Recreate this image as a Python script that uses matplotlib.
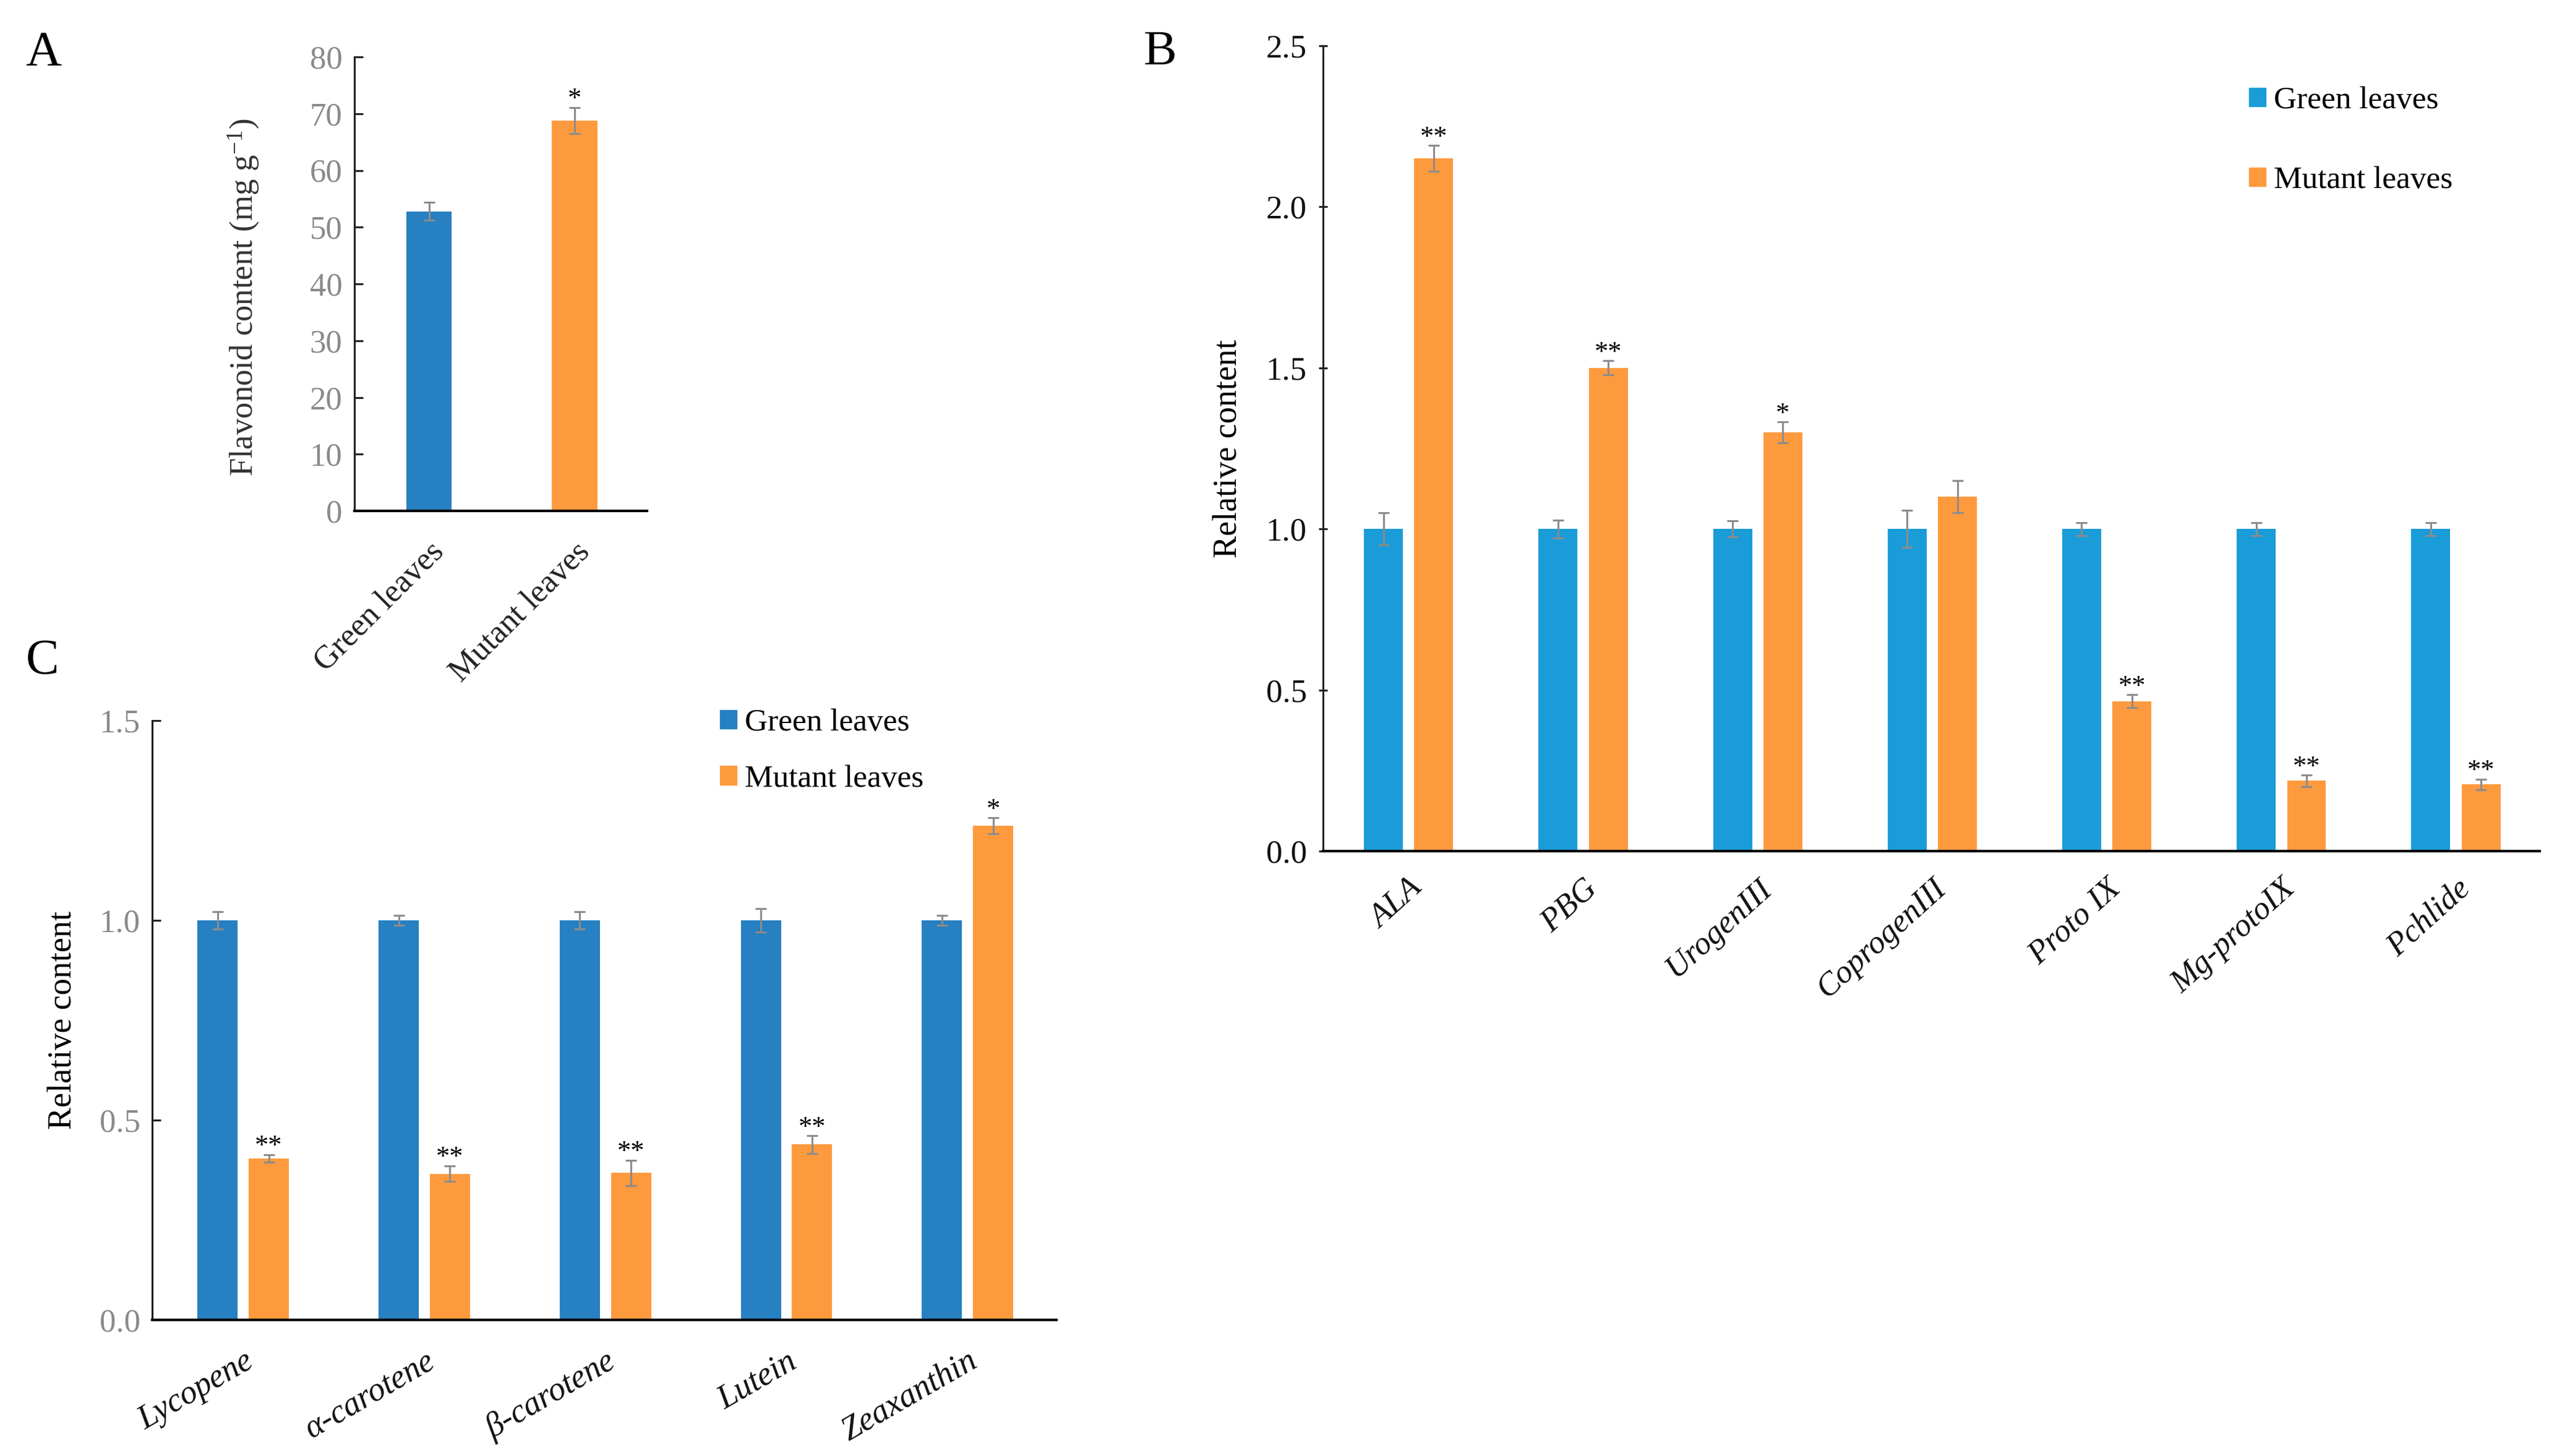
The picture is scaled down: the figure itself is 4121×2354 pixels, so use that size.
import matplotlib
matplotlib.use('Agg')
import matplotlib.pyplot as plt
import numpy as np
from matplotlib.patches import Patch

plt.rcParams['font.family'] = ['Liberation Serif', 'DejaVu Serif']
plt.rcParams['mathtext.fontset'] = 'custom'
plt.rcParams['mathtext.rm'] = 'Liberation Serif'
plt.rcParams['mathtext.it'] = 'Liberation Serif:italic'
plt.rcParams['mathtext.default'] = 'regular'

# ---------------- data ----------------
# Panel A
a_labels = ['Green leaves', 'Mutant leaves']
a_values = [52.8, 68.8]
a_errors = [1.6, 2.3]
a_sig = ['', '*']
a_yticks = [0, 10, 20, 30, 40, 50, 60, 70, 80]

# Panel B
b_categories = ['ALA', 'PBG', 'UrogenIII', 'CoprogenIII', 'Proto IX', 'Mg-protoIX', 'Pchlide']
b_green = [1.0, 1.0, 1.0, 1.0, 1.0, 1.0, 1.0]
b_green_err = [0.05, 0.028, 0.025, 0.058, 0.02, 0.02, 0.02]
b_mutant = [2.15, 1.50, 1.30, 1.10, 0.465, 0.218, 0.207]
b_mutant_err = [0.04, 0.022, 0.032, 0.05, 0.02, 0.018, 0.016]
b_sig = ['**', '**', '*', '', '**', '**', '**']
b_yticks = [0.0, 0.5, 1.0, 1.5, 2.0, 2.5]

# Panel C
c_categories = ['Lycopene', 'α-carotene', 'β-carotene', 'Lutein', 'Zeaxanthin']
c_green = [1.0, 1.0, 1.0, 1.0, 1.0]
c_green_err = [0.021, 0.013, 0.021, 0.03, 0.013]
c_mutant = [0.404, 0.366, 0.368, 0.439, 1.237]
c_mutant_err = [0.01, 0.02, 0.032, 0.022, 0.02]
c_sig = ['**', '**', '**', '**', '*']
c_yticks = [0.0, 0.5, 1.0, 1.5]

series_names = ['Green leaves', 'Mutant leaves']

# ---------------- style ----------------
BLUE_AC = '#2680C1'
BLUE_B = '#1A9CD8'
ORANGE = '#FE9A3E'
ERR = '#8C8C8C'
GREY_TXT = '#8A8A8A'

W, H = 4121, 2354
fig = plt.figure(figsize=(W / 100, H / 100), dpi=100)


def px_axes(left, top, right, bottom):
    return fig.add_axes([left / W, 1 - bottom / H, (right - left) / W, (bottom - top) / H])


def base_style(ax, tick_color, tick_dir):
    for s in ['top', 'right']:
        ax.spines[s].set_visible(False)
    ax.spines['left'].set_linewidth(2.2)
    ax.spines['bottom'].set_linewidth(3.0)
    ax.spines['left'].set_color('#222222')
    ax.spines['bottom'].set_color('black')
    ax.tick_params(axis='y', direction=tick_dir, length=10, width=2.2,
                   labelsize=38, labelcolor=tick_color, pad=14, color='#222222')
    ax.tick_params(axis='x', length=0)


ekw = dict(fmt='none', ecolor=ERR, elinewidth=2.2, capsize=6.5, capthick=2.2, zorder=3)

# ---------------- Panel A ----------------
axA = px_axes(573, 92, 1046, 826)
xa = np.arange(len(a_labels))
axA.bar(xa, a_values, width=0.312, color=[BLUE_AC, ORANGE], zorder=2)
axA.errorbar(xa, a_values, yerr=a_errors, **ekw)
for x, v, e, s in zip(xa, a_values, a_errors, a_sig):
    if s:
        axA.annotate(s, xy=(x, v + e), xytext=(0, 1), textcoords='offset points',
                     ha='center', va='baseline', fontsize=32)
axA.set_xlim(-0.512, 1.497)
axA.set_ylim(0, 80)
axA.set_yticks(a_yticks)
base_style(axA, GREY_TXT, 'in')
axA.set_xticks(xa)
axA.set_xticklabels(a_labels, rotation=45, ha='right', rotation_mode='anchor',
                    fontsize=38, color='#222222')
axA.tick_params(axis='x', pad=30)
axA.set_ylabel('Flavonoid content (mg g$^{-1}$)', fontsize=38, color='#333333')
axA.yaxis.set_label_coords(-0.32, 0.47)

# ---------------- Panel B ----------------
axB = px_axes(2139, 74, 4106, 1376)
xb = np.arange(len(b_categories))
off, bw = 0.144, 0.223
axB.bar(xb - off, b_green, width=bw, color=BLUE_B, zorder=2, label=series_names[0])
axB.bar(xb + off, b_mutant, width=bw, color=ORANGE, zorder=2, label=series_names[1])
axB.errorbar(xb - off, b_green, yerr=b_green_err, **ekw)
axB.errorbar(xb + off, b_mutant, yerr=b_mutant_err, **ekw)
for x, v, e, s in zip(xb + off, b_mutant, b_mutant_err, b_sig):
    if s:
        axB.annotate(s, xy=(x, v + e), xytext=(0, 1), textcoords='offset points',
                     ha='center', va='baseline', fontsize=32)
axB.set_xlim(-0.49, 6.48)
axB.set_ylim(0, 2.5)
axB.set_yticks(b_yticks)
axB.set_yticklabels([f'{t:.1f}' for t in b_yticks])
base_style(axB, '#111111', 'inout')
axB.set_xticks(xb)
axB.set_xticklabels(b_categories, rotation=42, ha='right', rotation_mode='anchor',
                    fontsize=38, style='italic', color='#111111')
axB.tick_params(axis='x', pad=26)
axB.set_ylabel('Relative content', fontsize=39, color='black', labelpad=26)
axB.legend(handles=[Patch(color=BLUE_B), Patch(color=ORANGE)], labels=series_names,
           loc='upper left', bbox_to_anchor=(3636 / W, 1 - 140 / H),
           bbox_transform=fig.transFigure, frameon=False, fontsize=37,
           handlelength=0.53, handleheight=0.53, handletextpad=0.25,
           labelspacing=1.6, borderpad=0, borderaxespad=0)

# ---------------- Panel C ----------------
axC = px_axes(246, 1165, 1708, 2134)
xc = np.arange(len(c_categories))
off, bw = 0.141, 0.222
axC.bar(xc - off, c_green, width=bw, color=BLUE_AC, zorder=2)
axC.bar(xc + off, c_mutant, width=bw, color=ORANGE, zorder=2)
axC.errorbar(xc - off, c_green, yerr=c_green_err, **ekw)
axC.errorbar(xc + off, c_mutant, yerr=c_mutant_err, **ekw)
for x, v, e, s in zip(xc + off, c_mutant, c_mutant_err, c_sig):
    if s:
        axC.annotate(s, xy=(x, v + e), xytext=(0, 1), textcoords='offset points',
                     ha='center', va='baseline', fontsize=32)
axC.set_xlim(-0.503, 4.491)
axC.set_ylim(0, 1.5)
axC.set_yticks(c_yticks)
axC.set_yticklabels([f'{t:.1f}' for t in c_yticks])
base_style(axC, GREY_TXT, 'in')
axC.set_xticks(xc)
axC.set_xticklabels(c_categories, rotation=30, ha='right', rotation_mode='anchor',
                    fontsize=39, style='italic', color='#111111')
axC.tick_params(axis='x', pad=30)
axC.set_ylabel('Relative content', fontsize=39, color='black', labelpad=24)
axC.legend(handles=[Patch(color=BLUE_AC), Patch(color=ORANGE)], labels=series_names,
           loc='upper left', bbox_to_anchor=(1164 / W, 1 - 1146 / H),
           bbox_transform=fig.transFigure, frameon=False, fontsize=37,
           handlelength=0.53, handleheight=0.53, handletextpad=0.25,
           labelspacing=0.85, borderpad=0, borderaxespad=0)

# ---------------- panel letters ----------------
fig.text(70 / W, 1 - 86 / H, 'A', fontsize=58, ha='center', va='center')
fig.text(1875 / W, 1 - 85 / H, 'B', fontsize=58, ha='center', va='center')
fig.text(69 / W, 1 - 1069 / H, 'C', fontsize=58, ha='center', va='center')

fig.savefig('out.png', dpi=100, facecolor='white')
